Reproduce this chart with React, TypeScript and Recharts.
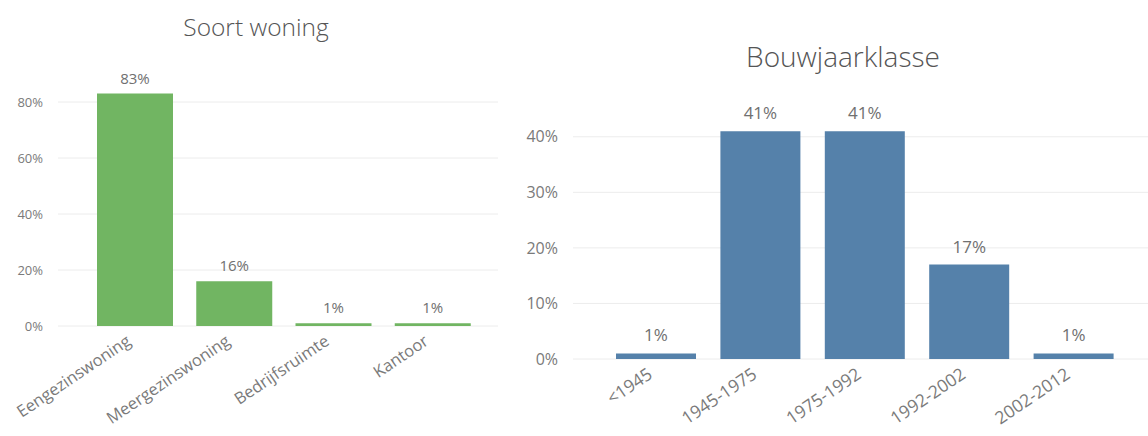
import React from "react";
import { BarChart, Bar, XAxis, YAxis, CartesianGrid, LabelList } from "recharts";

const woningCategories = ["Eengezinswoning", "Meergezinswoning", "Bedrijfsruimte", "Kantoor"];
const woningValues = [83, 16, 1, 1];
const woningTicks = [0, 20, 40, 60, 80];

const bouwCategories = ["<1945", "1945-1975", "1975-1992", "1992-2002", "2002-2012"];
const bouwValues = [1, 41, 41, 17, 1];
const bouwTicks = [0, 10, 20, 30, 40];

const woningData = woningCategories.map((c, i) => ({ name: c, value: woningValues[i] }));
const bouwData = bouwCategories.map((c, i) => ({ name: c, value: bouwValues[i] }));

const LEFT_FONT = "'Open Sans', 'Noto Sans', sans-serif";
const RIGHT_FONT = "'Open Sans', 'Noto Sans', sans-serif";

const makeTick = (font: string, size: number, dx: number, dy: number) => (props: any) => {
  const { x, y, payload } = props;
  return (
    <g transform={`translate(${x + dx},${y + dy})`}>
      <text
        textAnchor="end"
        transform="rotate(-34)"
        fill="#7a7a7a"
        fontSize={size}
        fontFamily={font}
        dy="0.35em"
      >
        {payload.value}
      </text>
    </g>
  );
};

const LeftTick = makeTick(LEFT_FONT, 16.5, -6, 5);
const RightTick = makeTick(RIGHT_FONT, 17.5, -6, 5);

export default function App() {
  return (
    <div style={{ position: "absolute", left: 0, top: 0, width: 1148, height: 436, background: "#fff", overflow: "hidden" }}>
      <div
        style={{
          position: "absolute",
          left: 0,
          width: 512,
          top: 12,
          textAlign: "center",
          fontFamily: LEFT_FONT,
          fontSize: 24.5,
          color: "#555",
          fontWeight: 300,
          lineHeight: "30px",
        }}
      >
        Soort woning
      </div>
      <div
        style={{
          position: "absolute",
          left: 686,
          width: 314,
          top: 39,
          textAlign: "center",
          fontFamily: LEFT_FONT,
          fontSize: 28,
          color: "#555",
          fontWeight: 300,
          lineHeight: "34px",
        }}
      >
        Bouwjaarklasse
      </div>

      <div style={{ position: "absolute", left: 0, top: 0 }}>
        <BarChart width={500} height={436} data={woningData} margin={{ top: 74, right: 2, bottom: 0, left: 0 }}>
          <CartesianGrid vertical={false} stroke="#ececec" syncWithTicks />
          <XAxis
            dataKey="name"
            height={110}
            axisLine={false}
            tickLine={false}
            interval={0}
            padding={{ left: 27, right: 16 }}
            tick={<LeftTick />}
          />
          <YAxis
            width={58}
            domain={[0, 90]}
            ticks={woningTicks}
            axisLine={false}
            tickLine={false}
            tickSize={0}
            tickMargin={15}
            tickFormatter={(v: number) => `${v}%`}
            tick={{ fill: "#7a7a7a", fontSize: 13, fontFamily: LEFT_FONT }}
          />
          <Bar dataKey="value" fill="#71b562" barSize={76} isAnimationActive={false}>
            <LabelList
              dataKey="value"
              position="top"
              offset={10}
              formatter={(v: number) => `${v}%`}
              style={{ fill: "#707070", fontSize: 15, fontFamily: LEFT_FONT }}
            />
          </Bar>
        </BarChart>
      </div>

      <div style={{ position: "absolute", left: 500, top: 0 }}>
        <BarChart width={648} height={436} data={bouwData} margin={{ top: 109, right: 0, bottom: 0, left: 0 }}>
          <CartesianGrid vertical={false} stroke="#ececec" syncWithTicks />
          <XAxis
            dataKey="name"
            height={77}
            axisLine={false}
            tickLine={false}
            interval={0}
            padding={{ left: 31, right: 22 }}
            tick={<RightTick />}
          />
          <YAxis
            width={73}
            domain={[0, 45]}
            ticks={bouwTicks}
            axisLine={false}
            tickLine={false}
            tickSize={0}
            tickMargin={15}
            tickFormatter={(v: number) => `${v}%`}
            tick={{ fill: "#7a7a7a", fontSize: 16, fontFamily: RIGHT_FONT }}
          />
          <Bar dataKey="value" fill="#5581aa" barSize={80} isAnimationActive={false}>
            <LabelList
              dataKey="value"
              position="top"
              offset={12}
              formatter={(v: number) => `${v}%`}
              style={{ fill: "#707070", fontSize: 17, fontFamily: RIGHT_FONT }}
            />
          </Bar>
        </BarChart>
      </div>
    </div>
  );
}
